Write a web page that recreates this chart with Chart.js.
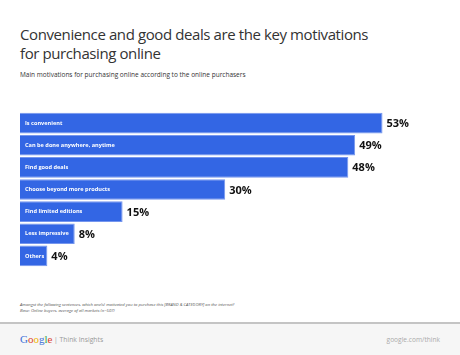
<!DOCTYPE html>
<html><head><meta charset="utf-8">
<script src="https://cdn.jsdelivr.net/npm/chart.js@4"></script>
<style>
html,body{margin:0;padding:0;background:#fff;}
#page{position:relative;width:460px;height:355px;overflow:hidden;font-family:"Open Sans",sans-serif;}
.t{position:absolute;white-space:nowrap;}
#title{left:20px;top:25px;font-size:15px;letter-spacing:-0.4px;line-height:19px;color:#333;}
#sub{left:20px;top:70px;font-size:6.5px;color:#333;}
#note{left:20px;top:302px;font-size:4.2px;line-height:6px;color:#555;font-style:italic;}
#rule{position:absolute;left:0;top:322px;width:460px;height:2px;background:#c4c4c4;}
#foot{position:absolute;left:0;top:324px;width:460px;height:31px;background:#f6f6f6;}
#g{left:20px;top:333px;font-family:"Liberation Serif",serif;font-size:11px;}
#ti{left:54px;top:335px;font-size:6.8px;color:#999;}
#gc{right:20px;top:335px;font-size:6.6px;color:#aaa;}
#wrap{position:absolute;left:0;top:105px;width:460px;height:165px;}
</style></head>
<body><div id="page">
<div class="t" id="title">Convenience and good deals are the key motivations<br>for purchasing online</div>
<div class="t" id="sub">Main motivations for purchasing online according to the online purchasers</div>
<div id="wrap"><canvas id="c"></canvas></div>
<div class="t" id="note">Amongst the following sentences, which one(s) motivated you to purchase this [BRAND &amp; CATEGORY] on the internet?<br>Base: Online buyers, average of all markets (n=507)</div>
<div id="rule"></div><div id="foot"></div>
<div class="t" id="g"><span style="color:#3b6fd8">G</span><span style="color:#d9402f">o</span><span style="color:#f0b400">o</span><span style="color:#3b6fd8">g</span><span style="color:#2fa24a">l</span><span style="color:#d9402f">e</span></div>
<div class="t" id="ti">| Think Insights</div>
<div class="t" id="gc">google.com/think</div>
</div>
<script>
const categories = ["Is convenient","Can be done anywhere, anytime","Find good deals","Choose beyond more products","Find limited editions","Less impressive","Others"];
const values = [53,49,48,30,15,8,4];

const labelPlugin = {
  id:'labels',
  afterDatasetsDraw(chart){
    const ctx = chart.ctx;
    const meta = chart.getDatasetMeta(0);
    meta.data.forEach((bar,i)=>{
      ctx.save();
      ctx.textBaseline='middle';
      ctx.fillStyle='#ffffff';
      ctx.font='bold 5.6px "Open Sans"';
      ctx.textAlign='left';
      ctx.fillText(categories[i], bar.base+5, bar.y);
      ctx.fillStyle='#111';
      ctx.font='bold 11px "Open Sans"';
      ctx.fillText(values[i]+'%', bar.x+4, bar.y+1);
      ctx.restore();
    });
  }
};

new Chart(document.getElementById('c'),{
  type:'bar',
  data:{labels:categories,datasets:[{data:values,backgroundColor:'#3366e4',borderColor:'#7596ee',borderWidth:1,barPercentage:0.933,categoryPercentage:1}]},
  options:{
    indexAxis:'y',responsive:true,maintainAspectRatio:false,animation:false,
    layout:{padding:{left:20,right:29.6,top:7,bottom:3}},
    plugins:{legend:{display:false},tooltip:{enabled:false}},
    scales:{x:{display:false,min:0,max:60},y:{display:false}}
  },
  plugins:[labelPlugin]
});
</script>
</body></html>
